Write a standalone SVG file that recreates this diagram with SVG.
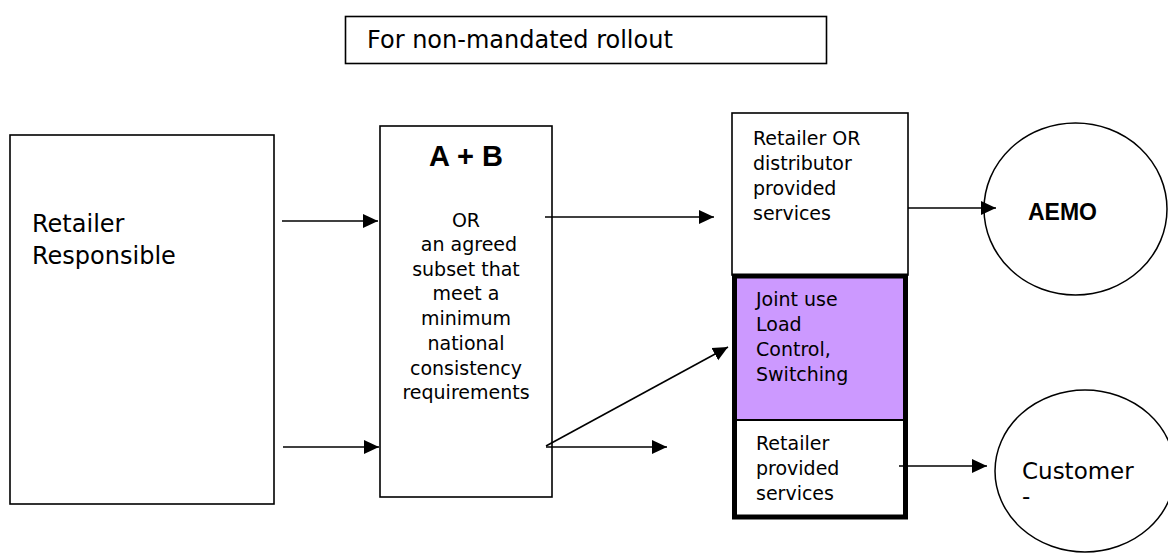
<svg xmlns="http://www.w3.org/2000/svg" width="1168" height="556" viewBox="0 0 1168 556">
  <style>
    .box { fill: #ffffff; stroke: #000000; stroke-width: 1.6; }
    .ring { fill: #ffffff; stroke: #000000; stroke-width: 1.5; }
    .t { font-family: "DejaVu Sans", Verdana, sans-serif; fill: #000000; }
    .big { font-size: 24px; }
    .small { font-size: 19px; }
    .bold { font-family: "Liberation Sans", Arial, sans-serif; font-weight: bold; fill: #000000; }
    .link { stroke: #000000; stroke-width: 1.6; fill: none; marker-end: url(#head); }
  </style>
  <defs>
    <marker id="head" markerUnits="userSpaceOnUse" markerWidth="16" markerHeight="16" viewBox="0 0 16 16" refX="15" refY="8" orient="auto">
      <path d="M0,1 L15,8 L0,15 Z" fill="#000000"/>
    </marker>
  </defs>

  <g id="title">
    <rect class="box" x="345.5" y="16.5" width="481" height="47"/>
    <text class="t big" x="367" y="48">For non-mandated rollout</text>
  </g>

  <g id="retailer-responsible">
    <rect class="box" x="10" y="135" width="264" height="369" stroke-width="2"/>
    <text class="t big" x="32" y="232">Retailer</text>
    <text class="t big" x="32" y="264">Responsible</text>
  </g>

  <g id="a-plus-b">
    <rect class="box" x="380" y="126" width="172" height="371" stroke-width="2"/>
    <text class="bold" x="466" y="166" font-size="29" text-anchor="middle">A + B</text>
    <g class="t small" text-anchor="middle">
      <text x="466" y="227">OR</text>
      <text x="469" y="251">an agreed</text>
      <text x="466" y="276">subset that</text>
      <text x="466" y="300">meet a</text>
      <text x="466" y="325">minimum</text>
      <text x="466" y="350">national</text>
      <text x="466" y="375">consistency</text>
      <text x="466" y="399">requirements</text>
    </g>
  </g>

  <g id="provided-services">
    <rect class="box" x="732" y="113" width="176" height="162"/>
    <g class="t small">
      <text x="753" y="145">Retailer OR</text>
      <text x="753" y="170">distributor</text>
      <text x="753" y="195">provided</text>
      <text x="753" y="220">services</text>
    </g>
  </g>

  <g id="joint-use">
    <rect x="734.5" y="276" width="171" height="144" fill="#CC99FF" stroke="none"/>
    <g class="t small">
      <text x="756" y="306">Joint use</text>
      <text x="756" y="331">Load</text>
      <text x="756" y="356">Control,</text>
      <text x="756" y="381">Switching</text>
    </g>
  </g>

  <g id="retailer-services">
    <line x1="734.5" y1="420" x2="905.5" y2="420" stroke="#000000" stroke-width="2"/>
    <g class="t small">
      <text x="756" y="450">Retailer</text>
      <text x="756" y="475">provided</text>
      <text x="756" y="500">services</text>
    </g>
  </g>

  <!-- heavy outline round the two lower compartments -->
  <rect x="734.5" y="276" width="171" height="241" fill="none" stroke="#000000" stroke-width="5"/>

  <g id="aemo">
    <ellipse class="ring" cx="1075.5" cy="209" rx="91.5" ry="86"/>
    <text class="bold" x="1028" y="220" font-size="23">AEMO</text>
  </g>

  <g id="customer">
    <ellipse class="ring" cx="1085" cy="471" rx="90" ry="81"/>
    <text class="t" x="1022" y="479" font-size="23">Customer</text>
    <text class="t" x="1022" y="504" font-size="23">-</text>
  </g>

  <g id="connectors">
    <line class="link" x1="282" y1="221" x2="378" y2="221"/>
    <line class="link" x1="283" y1="447" x2="379" y2="447"/>
    <line class="link" x1="545" y1="217" x2="714" y2="217"/>
    <line class="link" x1="546" y1="447" x2="667" y2="447"/>
    <line class="link" x1="546" y1="446" x2="728" y2="347"/>
    <line class="link" x1="908" y1="208" x2="996" y2="208"/>
    <line class="link" x1="899" y1="466" x2="987" y2="466"/>
  </g>
</svg>
